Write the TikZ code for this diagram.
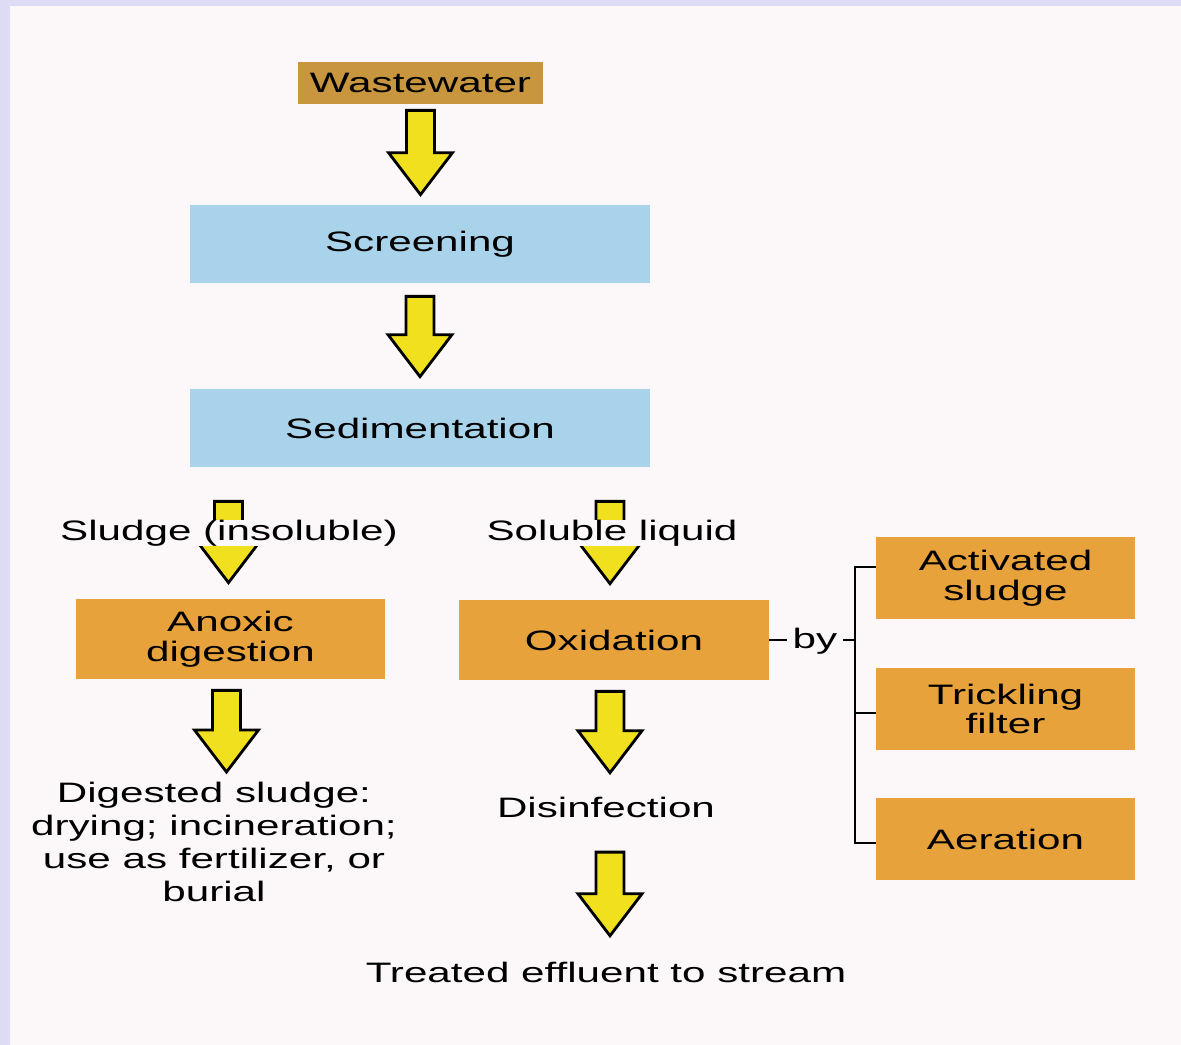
\documentclass[tikz,border=0pt]{standalone}
\usepackage{fontspec}
\setmainfont{Liberation Sans}[FakeStretch=1.5]
\usetikzlibrary{calc}

\definecolor{paper}{HTML}{FCF8F9}
\definecolor{rim}{HTML}{DDDCF4}
\definecolor{screenblue}{HTML}{A9D3EA}
\definecolor{boxorange}{HTML}{E8A23C}
\definecolor{wastetan}{HTML}{C8963F}
\definecolor{flowyellow}{HTML}{F0E01E}

\tikzset{
  txt/.style={font=\fontsize{16}{17}\selectfont, align=center, inner sep=2pt},
  inbox/.style={txt, fill=wastetan, minimum width=4.9cm, minimum height=0.84cm},
  tank/.style={txt, fill=screenblue, minimum width=9.2cm, minimum height=1.56cm},
  stage/.style={txt, fill=boxorange, minimum width=6.2cm, minimum height=1.6cm},
  method/.style={txt, fill=boxorange, minimum width=5.18cm, minimum height=1.64cm},
  label/.style={txt, fill=paper, inner sep=0pt},
  flow/.style={fill=flowyellow, draw=black, line width=1.6pt, line join=miter},
  tie/.style={draw=black, line width=1.2pt}
}

\begin{document}
\begin{tikzpicture}[x=0.02cm, y=-0.02cm]
  \def\flowarrow#1#2{%
    \path #1 coordinate (fa-top) #2 coordinate (fa-raw);
    \coordinate (fa-tip) at (fa-top |- fa-raw);
    \draw[flow] ($(fa-top)+(-14,0)$) -- ($(fa-tip)+(-14,-42)$) -- ($(fa-tip)+(-32,-42)$)
      -- (fa-tip) -- ($(fa-tip)+(32,-42)$) -- ($(fa-tip)+(14,-42)$) -- ($(fa-top)+(14,0)$) -- cycle;}

  \useasboundingbox (0,0) rectangle (1181,1045);
  \fill[rim] (0,0) rectangle (1181,1045); % page edge
  \fill[paper] (10,6) rectangle (1181,1045);

  % Main line
  \node[inbox] (waste) at (420.5,83) {Wastewater};
  \node[tank] (screen) at (420,244) {Screening};
  \node[tank] (sed) at (420,428) {Sedimentation};
  \node[stage] (anoxic) at (230.5,639) {Anoxic\\digestion};
  \node[stage] (oxid) at (614,640) {Oxidation};

  % Oxidation methods
  \node[method] (act) at (1005.5,578) {Activated\\sludge};
  \node[method] (trick) at (1005.5,709) {Trickling\\filter};
  \node[method] (aer) at (1005.5,839) {Aeration};

  \node[txt, anchor=north, font=\fontsize{16}{18.8}\selectfont] (digest) at (214,778)
    {Digested sludge:\\drying; incineration;\\use as fertilizer, or\\burial};
  \node[txt, anchor=base] (disinf) at (606,817) {Disinfection};
  \node[txt, anchor=base] (effluent) at (606,982) {Treated effluent to stream};

  \flowarrow{($(waste.south)+(0,6)$)}{($(screen.north)+(0,-10)$)}
  \flowarrow{($(screen.south)+(0,13)$)}{($(sed.north)+(0,-12)$)}
  \flowarrow{($(anoxic.north |- sed.south)+(-2,34)$)}{($(anoxic.north)+(0,-16)$)}
  \flowarrow{($(oxid.north |- sed.south)+(-4,34)$)}{($(oxid.north)+(0,-16)$)}
  \flowarrow{($(anoxic.south)+(-4,11)$)}{($(digest.north)+(0,-6)$)}
  \flowarrow{($(oxid.south)+(-4,11)$)}{($(disinf.north)+(0,-20)$)}
  \flowarrow{($(disinf.south)+(4,31)$)}{($(effluent.north)+(0,-22)$)}

  % Split labels sit on top of the short arrows
  \node[label, anchor=base] (sludge) at (229,540) {Sludge (insoluble)};
  \node[label, anchor=base] (liquid) at (612,540) {Soluble liquid};

  % Bracket
  \node[txt, anchor=base, inner xsep=3pt] (by) at (815,648) {by};
  \coordinate (brk) at ($(act.west)+(-21,0)$);
  \draw[tie] (oxid.east) -- (by.west |- oxid.east);
  \draw[tie] (by.east |- oxid.east) -- (brk |- oxid.east);
  \draw[tie] ($(act.west)+(0,-11)$) -| ($(aer.west)+(-21,4)$) -- ($(aer.west)+(0,4)$);
  \draw[tie] ($(trick.west)+(-21,4)$) -- ($(trick.west)+(0,4)$);
\end{tikzpicture}
\end{document}
